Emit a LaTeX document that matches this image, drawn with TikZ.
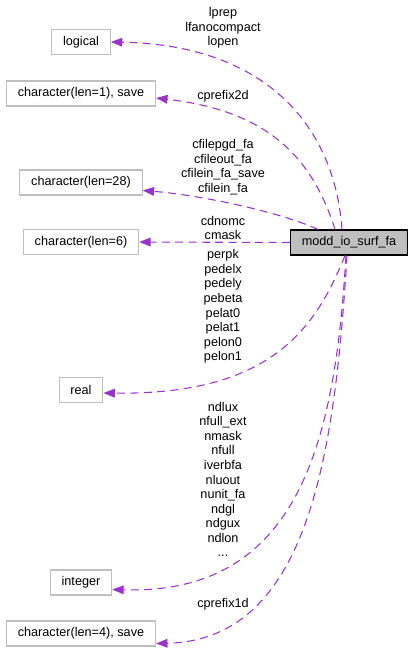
\documentclass[tikz,border=0pt]{standalone}
\usepackage{fontspec}
\setmainfont{Liberation Sans}
\usepackage{xcolor}
\usetikzlibrary{calc,arrows.meta}
\definecolor{edgepurple}{HTML}{9A32CD}
\definecolor{boxgrey}{HTML}{BFBFBF}

\begin{document}
\begin{tikzpicture}[x=0.75pt,y=-0.75pt,
	typebox/.style={draw=boxgrey,line width=0.9pt,fill=white,inner xsep=8.5pt,minimum height=18.75pt,font=\fontsize{9.5}{10.93}\selectfont},
	modbox/.style={typebox,draw=black,fill=boxgrey},
	varlist/.style={align=center,inner sep=0pt,font=\fontsize{9.5}{10.93}\selectfont},
	uses/.style={edgepurple,line width=0.8pt,dash pattern=on 6pt off 4pt,-{Triangle[length=8.5pt,width=6.5pt]}}]
	\useasboundingbox (0,0) rectangle (413,652);
	\node[modbox] (modd) at (349,242.5) {modd\_io\_surf\_fa};
	\node[typebox] (logical) at (81,42) {logical};
	\node[typebox] (char1) at (81,93.5) {character(len=1), save};
	\node[typebox] (char28) at (81,182.5) {character(len=28)};
	\node[typebox] (char6) at (81,242) {character(len=6)};
	\node[typebox] (real) at (81,390) {real};
	\node[typebox] (integer) at (81,582.5) {integer};
	\node[typebox] (char4) at (81,633.5) {character(len=4), save};
	\draw[uses] ($(modd.north)+(-7,0)$) .. controls (335,130) and (270,45) .. (logical.east);
	\draw[uses] ($(modd.north)+(-14,0)$) .. controls (310,150) and (260,110) .. ($(char1.east)+(0,4.5)$);
	\draw[uses] ($(modd.north)+(-31,0)$) .. controls (280,212) and (200,195) .. ($(char28.east)+(0,8)$);
	\draw[uses] (modd.west) -- (char6.east);
	\draw[uses] ($(modd.south)+(-4,0)$) .. controls (315,330) and (270,395) .. ($(real.east)+(0,3)$);
	\draw[uses] ($(modd.south)+(-3,0)$) .. controls (335,440) and (300,595) .. ($(integer.east)+(0,7)$);
	\draw[uses] ($(modd.south)+(-2,0)$) .. controls (335,450) and (310,640) .. ($(char4.east)+(0,10)$);
	\node[varlist] (lbllogical) at (223,28) {lprep\\lfanocompact\\lopen};
	\node[varlist] (lblchar1) at (223,96) {cprefix2d};
	\node[varlist] (lblchar28) at (223,167) {cfilepgd\_fa\\cfileout\_fa\\cfilein\_fa\_save\\cfilein\_fa};
	\node[varlist] (lblchar6) at (223,228) {cdnomc\\cmask};
	\node[varlist] (lblreal) at (223,306.5) {perpk\\pedelx\\pedely\\pebeta\\pelat0\\pelat1\\pelon0\\pelon1};
	\node[varlist] (lblinteger) at (223,479.5) {ndlux\\nfull\_ext\\nmask\\nfull\\iverbfa\\nluout\\nunit\_fa\\ndgl\\ndgux\\ndlon\\...};
	\node[varlist] (lblchar4) at (223,604.5) {cprefix1d};
\end{tikzpicture}
\end{document}
